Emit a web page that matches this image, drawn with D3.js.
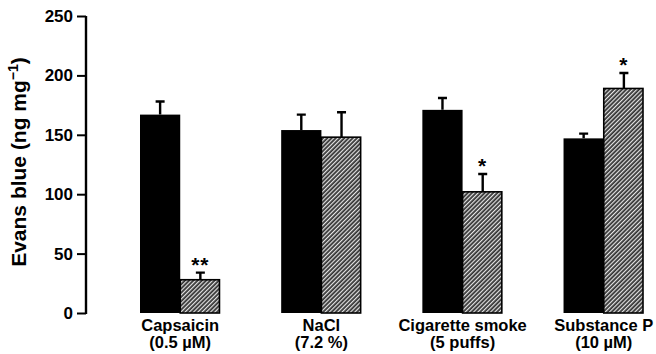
<!DOCTYPE html>
<html>
<head>
<meta charset="utf-8">
<script src="https://cdn.jsdelivr.net/npm/d3@7"></script>
<style>
  body { margin: 0; background: #fff; }
  text { font-family: "Liberation Sans", Arial, Helvetica, sans-serif; fill: #000; font-weight: bold; }
</style>
</head>
<body>
<svg id="chart" width="656" height="354"></svg>
<script>
// categories and their two-line labels
let groups = ['Capsaicin', 'NaCl', 'Cigarette smoke', 'Substance P'];
let subLabels = ['(0.5 \u00b5M)', '(7.2 %)', '(5 puffs)', '(10 \u00b5M)'];

// control (black) and treated (hatched) means, with s.e.m.
let controlValues = [167, 154, 171, 147];
let controlErrors = [11, 13, 10, 4];
let treatedValues = [28, 148, 102, 189];
let treatedErrors = [6, 21, 15, 13];
let treatedMarks = ['**', '', '*', '*'];

let yTicks = [0, 50, 100, 150, 200, 250];

let svg = d3.select('#chart');

// hatch pattern for the treated bars
let defs = svg.append('defs');
let pat = defs.append('pattern')
    .attr('id', 'hatch')
    .attr('patternUnits', 'userSpaceOnUse')
    .attr('width', 3)
    .attr('height', 3)
    .attr('patternTransform', 'rotate(45)');
pat.append('rect').attr('width', 3).attr('height', 3).attr('fill', '#333');
pat.append('rect').attr('x', 0).attr('width', 1.2).attr('height', 3).attr('fill', '#e6e6e6');

// scales
let y = d3.scaleLinear().domain([0, 250]).range([313, 16]);
let x = d3.scaleBand().domain(groups).range([140, 644]).paddingInner(0.43).paddingOuter(0);
let half = x.bandwidth() / 2;

// y axis
let axis = svg.append('g')
    .attr('transform', 'translate(86,0)')
    .call(d3.axisLeft(y).tickValues(yTicks).tickSize(9).tickPadding(4));
axis.select('.domain').attr('stroke-width', 2.4).attr('d', `M0,${y(250)}V${y(0) + 1}`);
axis.selectAll('.tick line').attr('stroke-width', 2);
axis.selectAll('.tick text')
    .attr('font-size', 17)
    .attr('font-weight', 'bold')
    .attr('font-family', '"Liberation Sans", Arial, sans-serif');

// y label
svg.append('text')
    .attr('transform', `translate(26,162) rotate(-90)`)
    .attr('text-anchor', 'middle')
    .attr('font-size', 21)
    .html('Evans blue (ng mg<tspan dy="-8" font-size="14">\u22121</tspan><tspan dy="8">)</tspan>');

let bars = svg.append('g');

// control bars
bars.selectAll('rect.control')
    .data(groups)
    .enter().append('rect')
    .attr('class', 'control')
    .attr('x', d => x(d))
    .attr('width', half)
    .attr('y', (d, i) => y(controlValues[i]))
    .attr('height', (d, i) => y(0) - y(controlValues[i]))
    .attr('fill', '#000');

// treated bars
bars.selectAll('rect.treated')
    .data(groups)
    .enter().append('rect')
    .attr('class', 'treated')
    .attr('x', d => x(d) + half)
    .attr('width', half - 1)
    .attr('y', (d, i) => y(treatedValues[i]))
    .attr('height', (d, i) => y(0) - y(treatedValues[i]))
    .attr('fill', 'url(#hatch)')
    .attr('stroke', '#000')
    .attr('stroke-width', 1.6);

// error bars, upward only with a T cap
function errorBar(cx, v, e) {
    let top = y(v + e);
    return `M${cx},${y(v)}V${top}M${cx - 4.5},${top}H${cx + 4.5}`;
}
bars.selectAll('path.errC')
    .data(groups)
    .enter().append('path')
    .attr('d', (d, i) => errorBar(x(d) + half / 2, controlValues[i], controlErrors[i]))
    .attr('stroke', '#000').attr('stroke-width', 2.4).attr('fill', 'none');
bars.selectAll('path.errT')
    .data(groups)
    .enter().append('path')
    .attr('d', (d, i) => errorBar(x(d) + half * 1.5, treatedValues[i], treatedErrors[i]))
    .attr('stroke', '#000').attr('stroke-width', 2.4).attr('fill', 'none');

// significance stars
bars.selectAll('text.star')
    .data(groups)
    .enter().append('text')
    .attr('x', d => x(d) + half * 1.5)
    .attr('y', (d, i) => y(treatedValues[i] + treatedErrors[i]) - 1)
    .attr('text-anchor', 'middle')
    .attr('font-size', 21)
    .attr('letter-spacing', 1)
    .text((d, i) => treatedMarks[i]);

// category labels
let labels = svg.append('g');
labels.selectAll('text.cat')
    .data(groups)
    .enter().append('text')
    .attr('x', d => x(d) + half)
    .attr('y', 331)
    .attr('text-anchor', 'middle')
    .attr('font-size', 16.5)
    .text(d => d);
labels.selectAll('text.sub')
    .data(groups)
    .enter().append('text')
    .attr('x', d => x(d) + half)
    .attr('y', 348)
    .attr('text-anchor', 'middle')
    .attr('font-size', 16.5)
    .text((d, i) => subLabels[i]);
</script>
</body>
</html>
